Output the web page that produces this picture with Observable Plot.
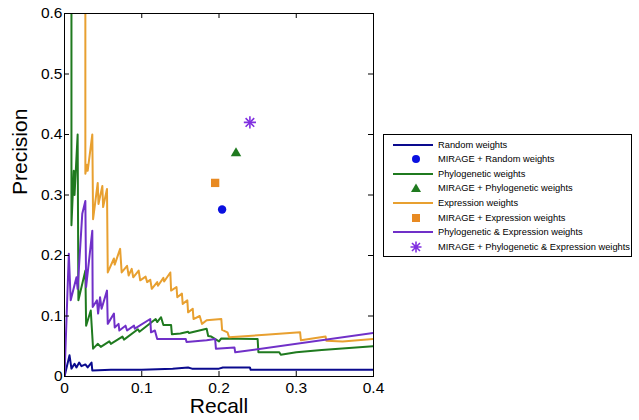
<!DOCTYPE html>
<html>
<head>
<meta charset="utf-8">
<script src="https://cdn.jsdelivr.net/npm/d3@7"></script>
<script src="https://cdn.jsdelivr.net/npm/@observablehq/plot@0.6"></script>
<style>
  html, body { margin: 0; padding: 0; background: #fff; }
  #wrap { position: relative; width: 639px; height: 420px; }
  #wrap svg { display: block; }
  #legend { position: absolute; left: 383px; top: 134px; width: 247px; height: 121px;
    border: 1px solid #000; background: #fff; font-family: "Liberation Sans", Arial, sans-serif; font-size: 9.3px; color: #000; }
  .row { position: absolute; left: 0; height: 14px; width: 247px; }
  .row svg { position: absolute; left: 8px; top: 0; }
  .row span { position: absolute; left: 54px; top: 0; line-height: 14px; white-space: nowrap; }
</style>
</head>
<body>
<div id="wrap"></div>
<script>
// ---- data ----
const xTicks = [0, 0.1, 0.2, 0.3, 0.4];
const yTicks = [0, 0.1, 0.2, 0.3, 0.4, 0.5, 0.6];

const legendLabels = [
  "Random weights",
  "MIRAGE + Random weights",
  "Phylogenetic weights",
  "MIRAGE + Phylogenetic weights",
  "Expression weights",
  "MIRAGE + Expression weights",
  "Phylogenetic & Expression weights",
  "MIRAGE + Phylogenetic & Expression weights"
];

// [recall, precision]
const randomPR = [
  [0, 0], [0.0065, 0.035], [0.009, 0.013], [0.013, 0.021], [0.0155, 0.015], [0.019, 0.023],
  [0.022, 0.017], [0.027, 0.020], [0.030, 0.015], [0.035, 0.023], [0.036, 0.010],
  [0.06, 0.011], [0.10, 0.011], [0.14, 0.013], [0.16, 0.015], [0.165, 0.013], [0.20, 0.013],
  [0.205, 0.015], [0.24, 0.015], [0.241, 0.011], [0.4, 0.011]
];

const phyloPR = [
  [0.009, 1.0], [0.009, 0.25], [0.012, 0.34], [0.013, 0.30], [0.017, 0.40], [0.018, 0.126],
  [0.027, 0.175], [0.028, 0.084], [0.034, 0.109], [0.037, 0.046], [0.043, 0.054], [0.047, 0.049],
  [0.058, 0.058], [0.060, 0.054], [0.075, 0.066], [0.077, 0.061], [0.095, 0.078], [0.097, 0.074],
  [0.118, 0.095], [0.120, 0.090], [0.125, 0.098], [0.128, 0.085], [0.138, 0.085], [0.139, 0.070],
  [0.15, 0.071], [0.16, 0.074], [0.161, 0.072], [0.184, 0.079], [0.186, 0.067], [0.19, 0.066],
  [0.20, 0.058], [0.203, 0.063], [0.25, 0.062], [0.251, 0.040], [0.278, 0.040], [0.28, 0.036],
  [0.30, 0.040], [0.333, 0.044], [0.4, 0.050]
];

const exprPR = [
  [0.027, 1.0], [0.027, 0.335], [0.029, 0.35], [0.030, 0.34], [0.036, 0.40], [0.037, 0.26],
  [0.043, 0.32], [0.044, 0.285], [0.049, 0.315], [0.050, 0.28], [0.055, 0.31], [0.056, 0.172],
  [0.064, 0.195], [0.065, 0.185], [0.072, 0.211], [0.074, 0.172], [0.081, 0.183], [0.083, 0.167],
  [0.087, 0.178], [0.089, 0.164], [0.096, 0.175], [0.098, 0.159], [0.105, 0.165], [0.107, 0.156],
  [0.111, 0.160], [0.113, 0.145], [0.120, 0.156], [0.121, 0.150], [0.128, 0.163], [0.129, 0.157],
  [0.137, 0.172], [0.138, 0.142], [0.145, 0.148], [0.146, 0.131],
  [0.152, 0.137], [0.153, 0.120], [0.159, 0.126], [0.160, 0.106], [0.166, 0.112], [0.167, 0.095],
  [0.175, 0.100], [0.178, 0.087], [0.184, 0.093], [0.203, 0.095], [0.204, 0.077], [0.211, 0.073],
  [0.213, 0.065], [0.26, 0.069], [0.305, 0.073], [0.306, 0.060], [0.338, 0.066], [0.339, 0.059],
  [0.36, 0.058], [0.4, 0.062]
];

const bothPR = [
  [0, 0], [0.0056, 0.203], [0.008, 0.126], [0.0155, 0.164], [0.017, 0.145], [0.023, 0.269],
  [0.027, 0.29], [0.028, 0.148], [0.036, 0.241], [0.0365, 0.115], [0.042, 0.126], [0.0435, 0.104],
  [0.046, 0.131], [0.048, 0.112], [0.055, 0.142], [0.056, 0.087], [0.064, 0.104], [0.065, 0.081],
  [0.070, 0.087], [0.071, 0.076], [0.079, 0.084], [0.081, 0.076], [0.090, 0.084], [0.091, 0.079],
  [0.111, 0.095], [0.112, 0.073], [0.117, 0.076], [0.120, 0.062], [0.157, 0.062], [0.158, 0.057],
  [0.184, 0.060], [0.195, 0.062], [0.196, 0.046], [0.220, 0.048], [0.221, 0.040], [0.4, 0.072]
];

// MIRAGE points: random, phylogenetic, expression, phylogenetic & expression
const mirageRecall = [0.204, 0.222, 0.195, 0.240];
const miragePrecision = [0.276, 0.369, 0.320, 0.420];

// ---- styles ----
const C = {
  random: "#0a0a8e", randomDot: "#0a10e0",
  phylo: "#1f7a1f", expr: "#e8a030", exprSq: "#e88a22", both: "#7030c8", bothStar: "#8030e0"
};

const mirage = mirageRecall.map((r, i) => ({recall: r, precision: miragePrecision[i]}));
const fx = d => d[0], fy = d => d[1];

const chart = Plot.plot({
  width: 639, height: 420,
  marginLeft: 64, marginRight: 266, marginTop: 13, marginBottom: 44,
  x: {domain: [0, 0.4]},
  y: {domain: [0, 0.6]},
  style: {fontFamily: "'Liberation Sans', Arial, sans-serif", background: "#fff", color: "#000"},
  marks: [
    Plot.line(randomPR, {x: fx, y: fy, stroke: C.random, strokeWidth: 2, clip: true}),
    Plot.line(phyloPR, {x: fx, y: fy, stroke: C.phylo, strokeWidth: 2, clip: true}),
    Plot.line(exprPR, {x: fx, y: fy, stroke: C.expr, strokeWidth: 2, clip: true}),
    Plot.line(bothPR, {x: fx, y: fy, stroke: C.both, strokeWidth: 2, clip: true}),
    Plot.dot([mirage[0]], {x: "recall", y: "precision", symbol: "circle", r: 4.2, fill: C.randomDot}),
    Plot.dot([mirage[1]], {x: "recall", y: "precision", symbol: "triangle", r: 3.9, fill: C.phylo}),
    Plot.dot([mirage[2]], {x: "recall", y: "precision", symbol: "square", r: 4.7, fill: C.exprSq}),
    Plot.dot([mirage[3]], {x: "recall", y: "precision", symbol: "plus", r: 4, stroke: C.bothStar, strokeWidth: 1.6}),
    Plot.dot([mirage[3]], {x: "recall", y: "precision", symbol: "times", r: 4, stroke: C.bothStar, strokeWidth: 1.6}),
    Plot.frame({stroke: "#000", strokeWidth: 1}),
    Plot.tickX(xTicks, {x: d => d, insetTop: 358, stroke: "#000"}),
    Plot.tickX(xTicks, {x: d => d, insetBottom: 358, stroke: "#000"}),
    Plot.tickY(yTicks, {y: d => d, insetRight: 304, stroke: "#000"}),
    Plot.tickY(yTicks, {y: d => d, insetLeft: 304, stroke: "#000"}),
    Plot.axisX({ticks: xTicks, tickSize: 0, tickPadding: 5, fontSize: 15.5, label: null, tickFormat: d => String(d)}),
    Plot.axisY({ticks: yTicks, tickSize: 0, tickPadding: 2, fontSize: 15.5, label: null, tickFormat: d => String(d)}),
    Plot.text(["Recall"], {text: d => d, frameAnchor: "bottom", dy: 36, fontSize: 21, fill: "#000"}),
    Plot.text(["Precision"], {text: d => d, frameAnchor: "left", dx: -44, rotate: -90, fontSize: 21, fill: "#000"})
  ]
});

const wrap = document.getElementById("wrap");
wrap.appendChild(chart);

// ---- legend ----
const legend = document.createElement("div");
legend.id = "legend";
const ns = "http://www.w3.org/2000/svg";
const legendStyle = [
  {type: "line", color: C.random},
  {type: "circle", color: C.randomDot},
  {type: "line", color: C.phylo},
  {type: "triangle", color: C.phylo},
  {type: "line", color: C.expr},
  {type: "square", color: C.exprSq},
  {type: "line", color: C.both},
  {type: "star", color: C.bothStar}
];
legendLabels.forEach((label, i) => {
  const row = document.createElement("div");
  row.className = "row";
  row.style.top = (2.5 + 14.6 * i) + "px";
  const s = document.createElementNS(ns, "svg");
  s.setAttribute("width", 42); s.setAttribute("height", 14);
  const st = legendStyle[i];
  let el;
  if (st.type === "line") {
    el = document.createElementNS(ns, "line");
    el.setAttribute("x1", 1); el.setAttribute("x2", 41); el.setAttribute("y1", 7); el.setAttribute("y2", 7);
    el.setAttribute("stroke", st.color); el.setAttribute("stroke-width", 2);
  } else if (st.type === "circle") {
    el = document.createElementNS(ns, "circle");
    el.setAttribute("cx", 24); el.setAttribute("cy", 7); el.setAttribute("r", 4); el.setAttribute("fill", st.color);
  } else if (st.type === "triangle") {
    el = document.createElementNS(ns, "path");
    el.setAttribute("d", "M24,2.5L29,11L19,11Z"); el.setAttribute("fill", st.color);
  } else if (st.type === "square") {
    el = document.createElementNS(ns, "rect");
    el.setAttribute("x", 20); el.setAttribute("y", 3); el.setAttribute("width", 8); el.setAttribute("height", 8);
    el.setAttribute("fill", st.color);
  } else {
    el = document.createElementNS(ns, "path");
    el.setAttribute("d", "M18.5,7H29.5M24,1.5V12.5M20,3L28,11M28,3L20,11");
    el.setAttribute("stroke", st.color); el.setAttribute("stroke-width", 1.6); el.setAttribute("fill", "none");
  }
  s.appendChild(el);
  row.appendChild(s);
  const t = document.createElement("span");
  t.textContent = label;
  row.appendChild(t);
  legend.appendChild(row);
});
wrap.appendChild(legend);
</script>
</body>
</html>
